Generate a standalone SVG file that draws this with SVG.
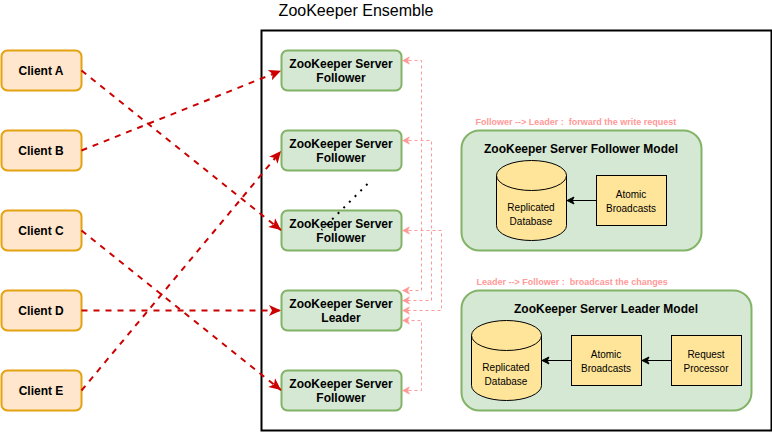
<svg xmlns="http://www.w3.org/2000/svg" width="772" height="432" viewBox="0 0 772 432">
<style>
text{font-family:"Liberation Sans",Arial,Helvetica,sans-serif;text-anchor:middle;fill:#000}
.b{font-weight:bold;font-size:12px}
.s{font-size:10px}
.p{font-weight:bold;font-size:9px;fill:#FF9999;text-anchor:start}
.client{fill:#FFE6CC;stroke:#E3A20F;stroke-width:2}
.server{fill:#D5E8D4;stroke:#82B366;stroke-width:2}
.model{fill:#D5E8D4;stroke:#82B366;stroke-width:2}
.y{fill:#FFE599;stroke:#000}
.red{fill:none;stroke:#CC0000;stroke-width:2;stroke-dasharray:6 6}
.pink{fill:none;stroke:#FF9999;stroke-dasharray:3 3}
.blk{fill:none;stroke:#000}
</style>
<defs>
<marker id="ar" markerUnits="userSpaceOnUse" markerWidth="16" markerHeight="14" refX="14" refY="7" orient="auto"><path d="M14 7L2 1.500L5 7L2 12.500Z" fill="#CC0000"/></marker>
<marker id="ap" markerUnits="userSpaceOnUse" markerWidth="10" markerHeight="10" refX="7.500" refY="5" orient="auto-start-reverse"><path d="M7.500 5L0.500 1.300L2.300 5L0.500 8.700Z" fill="#FF9999" stroke="#FF9999" stroke-width="0.500"/></marker>
<marker id="ak" markerUnits="userSpaceOnUse" markerWidth="10" markerHeight="10" refX="8" refY="5" orient="auto"><path d="M8 5L1 1.500L2.750 5L1 8.500Z" fill="#000" stroke="#000"/></marker>
</defs>
<rect x="261.500" y="30.500" width="510" height="400" fill="#fff" stroke="#000" stroke-width="2"/>
<text x="356" y="16" style="font-size:16px">ZooKeeper Ensemble</text>
<text class="p" x="475.500" y="125">Follower --&gt; Leader :&#160; forward the write request</text>
<text class="p" x="476.500" y="285">Leader --&gt; Follower :&#160; broadcast the changes</text>
<g id="client-a"><rect class="client" x="1.500" y="50.500" width="80" height="40" rx="6"/><text class="b" x="41" y="75">Client A</text></g>
<g id="client-b"><rect class="client" x="1.500" y="130.500" width="80" height="40" rx="6"/><text class="b" x="41" y="155">Client B</text></g>
<g id="client-c"><rect class="client" x="1.500" y="210.500" width="80" height="40" rx="6"/><text class="b" x="41" y="235">Client C</text></g>
<g id="client-d"><rect class="client" x="1.500" y="290.500" width="80" height="40" rx="6"/><text class="b" x="41" y="315">Client D</text></g>
<g id="client-e"><rect class="client" x="1.500" y="370.500" width="80" height="40" rx="6"/><text class="b" x="41" y="395">Client E</text></g>
<g id="server-1"><rect class="server" x="281.500" y="50.500" width="120" height="40" rx="6"/><text class="b" x="341" y="68">ZooKeeper Server</text><text class="b" x="341" y="82">Follower</text></g>
<g id="server-2"><rect class="server" x="281.500" y="130.500" width="120" height="40" rx="6"/><text class="b" x="341" y="148">ZooKeeper Server</text><text class="b" x="341" y="162">Follower</text></g>
<g id="server-3"><rect class="server" x="281.500" y="210.500" width="120" height="40" rx="6"/><text class="b" x="341" y="228">ZooKeeper Server</text><text class="b" x="341" y="242">Follower</text></g>
<g id="server-leader"><rect class="server" x="281.500" y="290.500" width="120" height="40" rx="6"/><text class="b" x="341" y="308">ZooKeeper Server</text><text class="b" x="341" y="322">Leader</text></g>
<g id="server-5"><rect class="server" x="281.500" y="370.500" width="120" height="40" rx="6"/><text class="b" x="341" y="388">ZooKeeper Server</text><text class="b" x="341" y="402">Follower</text></g>
<g id="follower-model">
<rect class="model" x="461.500" y="130.500" width="240" height="120" rx="18"/>
<text class="b" x="581" y="153">ZooKeeper Server Follower Model</text>
<g id="follower-db"><path class="y" d="M496.500 175.500A35 15 0 0 1 566.500 175.500V225.500A35 15 0 0 1 496.500 225.500Z"/><path class="y" style="fill:none" d="M496.500 175.500A35 15 0 0 0 566.500 175.500"/><text class="s" x="531" y="211">Replicated</text><text class="s" x="531" y="225">Database</text></g>
<g id="follower-atomic"><rect class="y" x="596.500" y="175.500" width="70" height="50"/><text class="s" x="631" y="198">Atomic</text><text class="s" x="631" y="212">Broadcasts</text></g>
</g>
<g id="leader-model">
<rect class="model" x="461.500" y="290.500" width="290" height="120" rx="18"/>
<text class="b" x="606" y="313">ZooKeeper Server Leader Model</text>
<g id="leader-db"><path class="y" d="M471.500 335.500A35 15 0 0 1 541.500 335.500V385.500A35 15 0 0 1 471.500 385.500Z"/><path class="y" style="fill:none" d="M471.500 335.500A35 15 0 0 0 541.500 335.500"/><text class="s" x="506" y="371">Replicated</text><text class="s" x="506" y="385">Database</text></g>
<g id="leader-atomic"><rect class="y" x="571.500" y="335.500" width="70" height="50"/><text class="s" x="606" y="358">Atomic</text><text class="s" x="606" y="372">Broadcasts</text></g>
<g id="leader-processor"><rect class="y" x="671.500" y="335.500" width="70" height="50"/><text class="s" x="706" y="358">Request</text><text class="s" x="706" y="372">Processor</text></g>
</g>
<g id="connectors">
<path class="red" marker-end="url(#ar)" d="M81.500 70.500L281 230.100"/>
<path class="red" marker-end="url(#ar)" d="M81.500 150.500L281 70.700"/>
<path class="red" marker-end="url(#ar)" d="M81.500 230.500L281 390.100"/>
<path class="red" marker-end="url(#ar)" d="M81.500 310.500L281 310.500"/>
<path class="red" marker-end="url(#ar)" d="M81.500 390.500L281 151"/>
<path class="pink" marker-start="url(#ap)" marker-end="url(#ap)" d="M402.500 60.500H421.500V290.500H402.500"/>
<path class="pink" marker-start="url(#ap)" marker-end="url(#ap)" d="M402.500 140.500H431.500V300.500H402.500"/>
<path class="pink" marker-start="url(#ap)" marker-end="url(#ap)" d="M402.500 230.500H441.500V310.500H402.500"/>
<path class="pink" marker-start="url(#ap)" marker-end="url(#ap)" d="M402.500 390.500H421.500V320.500H402.500"/>
<path class="blk" marker-end="url(#ak)" d="M596.500 200.500H567"/>
<path class="blk" marker-end="url(#ak)" d="M571.500 360.500H542"/>
<path class="blk" marker-end="url(#ak)" d="M671.500 360.500H642"/>
<path id="ellipsis" d="M367.500 184L321.500 230" fill="none" stroke="#000" stroke-width="2" stroke-dasharray="2 6"/>
</g>
</svg>
